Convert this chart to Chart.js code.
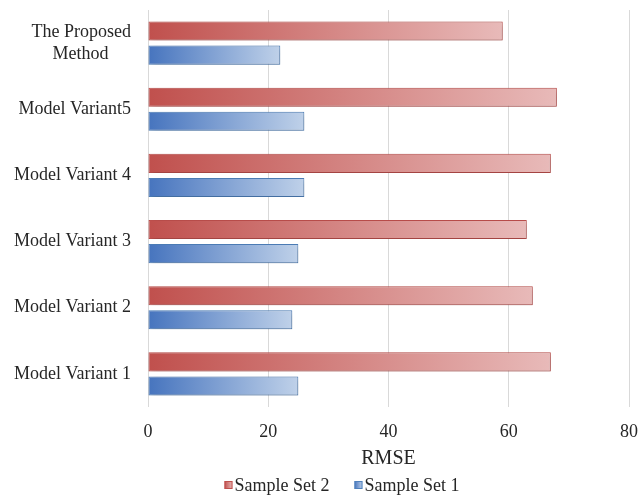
<!DOCTYPE html>
<html>
<head>
<meta charset="utf-8">
<script src="https://cdn.jsdelivr.net/npm/chart.js@4"></script>
<style>
  html, body { margin: 0; padding: 0; background: #fff; }
  #wrap { width: 641px; height: 496px; }
</style>
</head>
<body>
<div id="wrap"><canvas id="c" width="641" height="496"></canvas></div>
<script>
const categories = [
  ["The Proposed", "Method     "],
  "Model Variant5",
  "Model Variant 4",
  "Model Variant 3",
  "Model Variant 2",
  "Model Variant 1"
];
const seriesNames = ["Sample Set 2", "Sample Set 1"];
const sampleSet2 = [59, 68, 67, 63, 64, 67];
const sampleSet1 = [22, 26, 26, 25, 24, 25];
const xTicks = [0, 20, 40, 60, 80];

const FONT = "'Liberation Serif', 'Times New Roman', serif";
const TEXT = '#262626';

const palette = {
  red:  { dark: 'rgb(192,80,77)',  light: 'rgb(232,186,185)', border: 'rgb(192,80,77)' },
  blue: { dark: 'rgb(70,116,190)', light: 'rgb(191,209,233)', border: 'rgb(79,129,189)' }
};

// left-to-right fade along each bar's own length
function barFill(p) {
  return (ctx) => {
    const chart = ctx.chart;
    if (!chart.chartArea || ctx.type !== 'data') return p.dark;
    const xs = chart.scales.x;
    const x0 = xs.getPixelForValue(0);
    const x1 = xs.getPixelForValue(ctx.raw);
    const g = chart.ctx.createLinearGradient(x0, 0, x1, 0);
    g.addColorStop(0, p.dark);
    g.addColorStop(1, p.light);
    return g;
  };
}

// soft drop shadow under the bars
const barShadow = {
  id: 'barShadow',
  beforeDatasetsDraw(chart) {
    const c = chart.ctx;
    c.save();
    c.shadowColor = 'rgba(0,0,0,0.22)';
    c.shadowBlur = 6;
    c.shadowOffsetX = 2;
    c.shadowOffsetY = 2;
  },
  afterDatasetsDraw(chart) {
    chart.ctx.restore();
  }
};

// legend row under the axis title: faded swatch + series name
const fadeLegend = {
  id: 'fadeLegend',
  afterDraw(chart) {
    const c = chart.ctx;
    const sets = [palette.red, palette.blue];
    const box = 8, gap = 2, spacing = 25, centerX = 342, midY = 486;
    c.save();
    c.font = `18px ${FONT}`;
    c.textBaseline = 'middle';
    c.textAlign = 'left';
    const widths = seriesNames.map(t => c.measureText(t).width);
    const total = widths.reduce((s, w) => s + box + gap + w, 0) + spacing * (seriesNames.length - 1);
    let x = centerX - total / 2;
    seriesNames.forEach((name, i) => {
      const p = sets[i];
      const y = midY - box / 2 - 1;
      const g = c.createLinearGradient(x, 0, x + box, 0);
      g.addColorStop(0, p.dark);
      g.addColorStop(1, p.light);
      c.fillStyle = g;
      c.fillRect(x, y, box, box);
      c.strokeStyle = p.border;
      c.lineWidth = 1;
      c.strokeRect(x + 0.5, y + 0.5, box - 1, box - 1);
      c.fillStyle = TEXT;
      c.fillText(name, x + box + gap, midY);
      x += box + gap + widths[i] + spacing;
    });
    c.restore();
  }
};

new Chart(document.getElementById('c'), {
  type: 'bar',
  data: {
    labels: categories,
    datasets: [
      {
        label: seriesNames[0],
        data: sampleSet2,
        backgroundColor: barFill(palette.red),
        borderColor: palette.red.border,
        borderWidth: 1,
        borderSkipped: false
      },
      {
        label: seriesNames[1],
        data: sampleSet1,
        backgroundColor: barFill(palette.blue),
        borderColor: palette.blue.border,
        borderWidth: 1,
        borderSkipped: false
      }
    ]
  },
  options: {
    indexAxis: 'y',
    responsive: false,
    animation: false,
    devicePixelRatio: 1,
    categoryPercentage: 0.73,
    barPercentage: 0.79,
    layout: { padding: { top: 10, right: 12, left: 0, bottom: 0 } },
    scales: {
      x: {
        min: 0,
        max: 80,
        afterBuildTicks(axis) { axis.ticks = xTicks.map(v => ({ value: v })); },
        afterFit(axis) {
          axis.height = 89;
          axis.paddingLeft = 0;
          axis.paddingRight = 0;
        },
        grid: { color: '#d9d9d9', lineWidth: 1, drawTicks: false },
        border: { display: false },
        ticks: { color: TEXT, font: { family: FONT, size: 18 }, padding: 14 },
        title: { display: true, text: 'RMSE', color: TEXT, font: { family: FONT, size: 20 }, padding: { top: 0, bottom: 25 } }
      },
      y: {
        afterFit(axis) {
          axis.width = 148;
          axis.paddingTop = 0;
          axis.paddingBottom = 0;
        },
        grid: { display: false, drawTicks: false },
        border: { display: false },
        ticks: { color: TEXT, font: { family: FONT, size: 18 }, padding: 17 }
      }
    },
    plugins: {
      legend: { display: false },
      tooltip: { enabled: false }
    }
  },
  plugins: [barShadow, fadeLegend]
});
</script>
</body>
</html>
